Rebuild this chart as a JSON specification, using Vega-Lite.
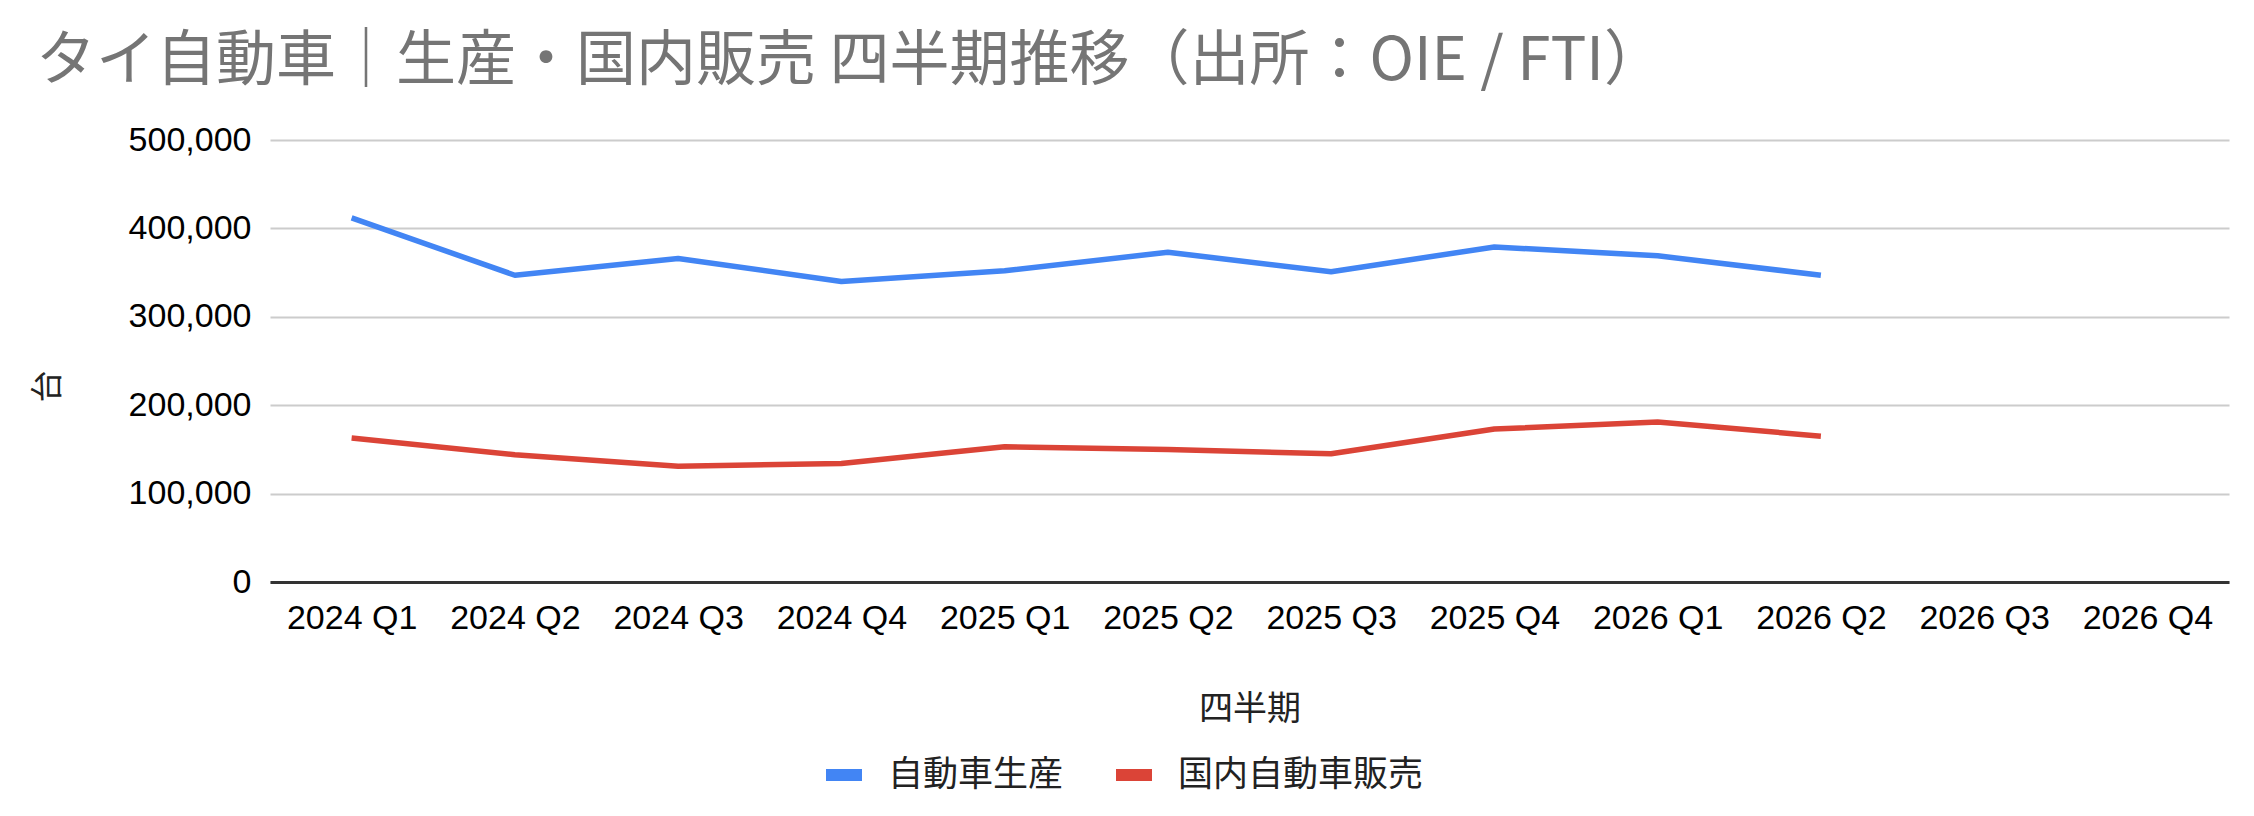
{
  "$schema": "https://vega.github.io/schema/vega-lite/v6.json",
  "autosize": {"type": "none"},
  "padding": {"left": 270, "top": 140, "right": 25, "bottom": 234},
  "width": 1959,
  "height": 442,
  "background": "#ffffff",
  "title": {
    "text": "タイ自動車｜生産・国内販売 四半期推移（出所：OIE / FTI）",
    "anchor": "start",
    "frame": "group",
    "dx": -234,
    "dy": 17,
    "baseline": "alphabetic",
    "offset": 0,
    "font": "Noto Sans CJK JP",
    "fontSize": 60,
    "fontWeight": "normal",
    "color": "#757575"
  },
  "data": {
    "values": [
      {"quarter": "2024 Q1", "series": "自動車生産", "units": 412000},
      {"quarter": "2024 Q2", "series": "自動車生産", "units": 347000},
      {"quarter": "2024 Q3", "series": "自動車生産", "units": 366000},
      {"quarter": "2024 Q4", "series": "自動車生産", "units": 340000},
      {"quarter": "2025 Q1", "series": "自動車生産", "units": 352000},
      {"quarter": "2025 Q2", "series": "自動車生産", "units": 373000},
      {"quarter": "2025 Q3", "series": "自動車生産", "units": 351000},
      {"quarter": "2025 Q4", "series": "自動車生産", "units": 379000},
      {"quarter": "2026 Q1", "series": "自動車生産", "units": 369000},
      {"quarter": "2026 Q2", "series": "自動車生産", "units": 347000},
      {"quarter": "2024 Q1", "series": "国内自動車販売", "units": 163000},
      {"quarter": "2024 Q2", "series": "国内自動車販売", "units": 144000},
      {"quarter": "2024 Q3", "series": "国内自動車販売", "units": 131000},
      {"quarter": "2024 Q4", "series": "国内自動車販売", "units": 134000},
      {"quarter": "2025 Q1", "series": "国内自動車販売", "units": 153000},
      {"quarter": "2025 Q2", "series": "国内自動車販売", "units": 150000},
      {"quarter": "2025 Q3", "series": "国内自動車販売", "units": 145000},
      {"quarter": "2025 Q4", "series": "国内自動車販売", "units": 173000},
      {"quarter": "2026 Q1", "series": "国内自動車販売", "units": 181000},
      {"quarter": "2026 Q2", "series": "国内自動車販売", "units": 165000}
    ]
  },
  "mark": {"type": "line", "strokeWidth": 5.5, "strokeJoin": "round"},
  "encoding": {
    "x": {
      "field": "quarter",
      "type": "ordinal",
      "title": "四半期",
      "scale": {
        "type": "point",
        "padding": 0.5,
        "domain": ["2024 Q1", "2024 Q2", "2024 Q3", "2024 Q4", "2025 Q1", "2025 Q2", "2025 Q3", "2025 Q4", "2026 Q1", "2026 Q2", "2026 Q3", "2026 Q4"]
      },
      "axis": {
        "labelAngle": 0,
        "labelFont": "Liberation Sans",
        "labelFontSize": 34,
        "labelColor": "#000000",
        "labelPadding": 19,
        "ticks": false,
        "grid": false,
        "domainColor": "#333333",
        "domainWidth": 3,
        "titleFont": "Noto Sans CJK JP",
        "titleFontSize": 34,
        "titleFontWeight": "normal",
        "titleColor": "#222222",
        "titleBaseline": "middle",
        "titleY": 127
      }
    },
    "y": {
      "field": "units",
      "type": "quantitative",
      "title": "台",
      "scale": {"domain": [0, 500000]},
      "axis": {
        "values": [0, 100000, 200000, 300000, 400000, 500000],
        "format": ",d",
        "labelFont": "Liberation Sans",
        "labelFontSize": 34,
        "labelColor": "#000000",
        "labelPadding": 19,
        "ticks": false,
        "domain": false,
        "gridColor": "#cccccc",
        "gridWidth": 2,
        "titleFont": "Noto Sans CJK JP",
        "titleFontSize": 32,
        "titleFontWeight": "normal",
        "titleColor": "#222222",
        "titleAngle": -90,
        "titleAlign": "center",
        "titleBaseline": "middle",
        "titleX": -223,
        "titleY": 246
      }
    },
    "color": {
      "field": "series",
      "type": "nominal",
      "scale": {
        "domain": ["自動車生産", "国内自動車販売"],
        "range": ["#4285F4", "#DB4437"]
      },
      "legend": {
        "title": null,
        "orient": "none",
        "direction": "horizontal",
        "legendX": 550,
        "legendY": 611,
        "symbolType": "stroke",
        "symbolStrokeWidth": 12,
        "symbolSize": 1296,
        "labelFont": "Noto Sans CJK JP",
        "labelFontSize": 35,
        "labelLimit": 600,
        "labelColor": "#222222",
        "labelOffset": 20,
        "columnPadding": 28
      }
    }
  },
  "config": {
    "view": {"stroke": null}
  }
}
